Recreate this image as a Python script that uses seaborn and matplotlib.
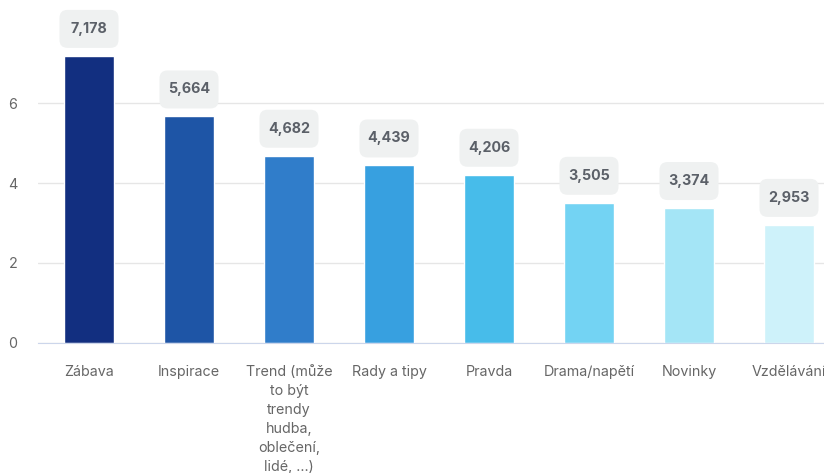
import pandas as pd
import matplotlib.pyplot as plt
import matplotlib.transforms as mtransforms
from matplotlib.patches import FancyBboxPatch
import seaborn as sns

categories = ['Zábava', 'Inspirace', 'Trend (může\nto být\ntrendy\nhudba,\noblečení,\nlidé, ...)',
              'Rady a tipy', 'Pravda', 'Drama/napětí', 'Novinky', 'Vzdělávání']
values = [7.178, 5.664, 4.682, 4.439, 4.206, 3.505, 3.374, 2.953]
colors = ['#122F80', '#1E55A6', '#307DCA', '#37A0E0', '#47BCEA', '#73D3F3', '#A4E5F6', '#CEF2FA']

df = pd.DataFrame({'cat': categories, 'val': values})

sns.set_style('white')
plt.rcParams['font.family'] = ['Inter', 'DejaVu Sans']

fig = plt.figure(figsize=(8.24, 4.73), dpi=100)
ax = fig.add_axes([38 / 824, 1 - 343 / 473, (824 - 38) / 824, 343 / 473])

sns.barplot(x='cat', y='val', data=df, hue='cat', palette=colors, legend=False,
            width=0.5, ax=ax, saturation=1)

ax.set_ylim(0, 8.575)
ax.set_xlim(-0.51, 7.35)
ax.set_yticks([0, 2, 4, 6])
ax.set_xlabel('')
ax.set_ylabel('')
ax.grid(axis='y', color='#e6e6e6', linewidth=1)
ax.set_axisbelow(True)
for s in ['top', 'right', 'left']:
    ax.spines[s].set_visible(False)
ax.spines['bottom'].set_color('#ccd6eb')
ax.tick_params(axis='both', length=0, colors='#666666', labelsize=10.3)
ax.tick_params(axis='y', pad=15)
ax.tick_params(axis='x', pad=16)
for lbl in ax.get_xticklabels():
    lbl.set_verticalalignment('top')
    lbl.set_linespacing(1.45)

# value labels in rounded grey boxes (box drawn in pixels above each bar)
for i, v in enumerate(values):
    trans = mtransforms.IdentityTransform() + mtransforms.ScaledTranslation(i, v, ax.transData)
    box = FancyBboxPatch((-29.5 + 8, 8 + 8), 59 - 16, 38 - 16,
                         boxstyle='round,pad=8', fc='#eff1f1', ec='none',
                         transform=trans, clip_on=False, zorder=3)
    ax.add_patch(box)
    ax.annotate(f'{v:,.3f}'.replace('.', ','), xy=(i, v), xytext=(0, 19.5), textcoords='offset points',
                ha='center', va='center', fontsize=10.3, fontweight='bold', color='#5b6068', zorder=4)

fig.savefig('out.png', dpi=100)
